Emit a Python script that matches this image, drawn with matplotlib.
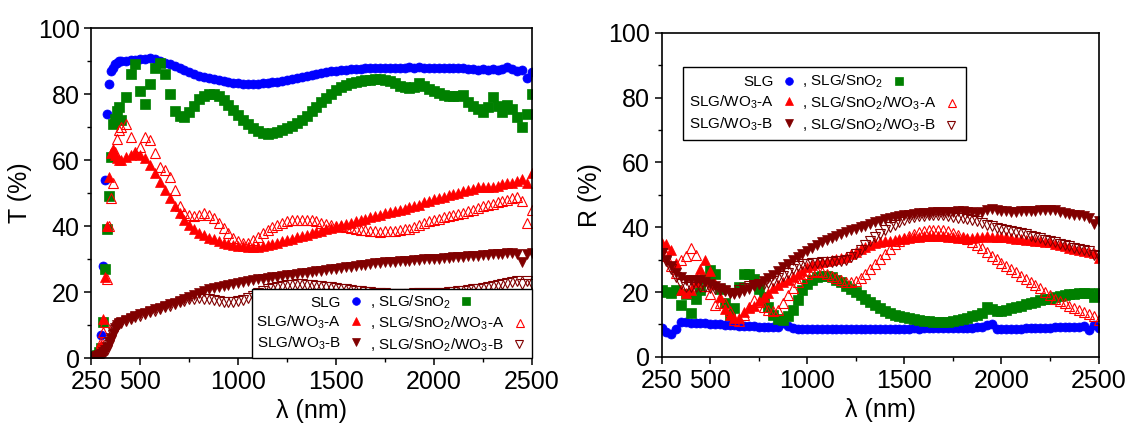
import matplotlib as mpl
mpl.use('Agg')
import matplotlib.pyplot as plt
from matplotlib.ticker import MultipleLocator, FixedLocator

mpl.rcParams['font.family'] = 'Liberation Sans'
mpl.rcParams['mathtext.fontset'] = 'custom'
mpl.rcParams['mathtext.rm'] = 'Liberation Sans'
mpl.rcParams['mathtext.it'] = 'Liberation Sans:italic'

# ---------------- Transmittance data (T, %) ----------------
wl_T = [260, 270, 280, 290, 300, 310, 320, 330, 340, 350, 360, 370, 380, 390] + list(range(400, 2501, 25))

T_slg = [0.3, 0.5, 1.0, 2.0, 7.0, 28.0, 54.0, 74.0, 83.0, 87.0, 88.0, 89.0, 89.5, 90.0,
         90.0, 90.1, 90.3, 90.4, 90.6, 90.7, 90.8, 90.5,
         90.0, 89.5, 89.0, 88.5, 88.0, 87.4, 86.8, 86.2,
         85.6, 85.2, 84.8, 84.5, 84.2, 84.0, 83.7, 83.5,
         83.3, 83.2, 83.1, 83.1, 83.2, 83.3, 83.4, 83.6,
         83.8, 84.0, 84.2, 84.5, 84.8, 85.1, 85.5, 85.8,
         86.1, 86.4, 86.7, 86.9, 87.1, 87.3, 87.4, 87.5,
         87.6, 87.7, 87.8, 87.8, 87.9, 87.9, 87.9, 88.0,
         88.0, 88.0, 88.0, 88.1, 88.0, 88.1, 88.0, 87.9,
         88.0, 88.0, 87.9, 88.0, 87.9, 87.8, 87.9, 87.7,
         87.6, 87.4, 87.6, 87.3, 87.5, 87.2, 87.7, 88.3,
         87.6, 87.0, 87.4, 85.0, 86.6]
T_sno2 = [0.3, 0.5, 1.0, 2.0, 3.0, 11.0, 27.0, 39.0, 49.0, 61.0, 71.0, 72.5, 75.0, 76.0,
          72.0, 79.0, 86.0, 89.0, 81.0, 77.0, 83.0, 88.0,
          89.5, 86.0, 80.0, 75.0, 73.5, 73.0, 74.5, 76.5,
          78.5, 79.5, 80.0, 80.0, 79.3, 78.2, 76.8, 75.2,
          73.7, 72.2, 70.8, 69.6, 68.7, 68.2, 67.9, 68.1,
          68.6, 69.0, 69.6, 70.4, 71.2, 72.3, 73.5, 74.8,
          76.2, 77.6, 78.9, 80.1, 81.2, 82.0, 82.7, 83.3,
          83.7, 84.0, 84.2, 84.4, 84.5, 84.5, 84.3, 83.9,
          83.3, 82.6, 82.0, 81.8, 82.0, 83.5, 82.3, 81.5,
          80.8, 80.2, 79.7, 79.4, 79.3, 79.5, 79.8, 77.5,
          76.5, 75.5, 74.5, 76.0, 79.0, 76.5, 74.5, 76.8,
          75.5, 73.0, 70.0, 74.0, 80.0]
T_wo3_a = [0.5, 0.8, 1.2, 2.0, 4.0, 12.0, 24.5, 40.0, 55.0, 62.0, 63.5, 61.5, 60.5, 60.0,
           60.0, 60.8, 61.5, 62.0, 61.5, 60.5, 58.5, 56.0,
           53.5, 51.0, 48.5, 46.0, 44.0, 42.0, 40.3, 39.0,
           38.0, 37.2, 36.5, 36.0, 35.5, 35.0, 34.6, 34.3,
           34.0, 33.9, 33.8, 33.7, 33.8, 33.9, 34.2, 34.6,
           35.0, 35.4, 35.8, 36.2, 36.6, 37.0, 37.4, 37.8,
           38.2, 38.6, 39.0, 39.4, 39.8, 40.2, 40.6, 41.0,
           41.4, 41.9, 42.3, 42.7, 43.1, 43.5, 43.9, 44.3,
           44.7, 45.0, 45.3, 45.7, 46.1, 46.5, 47.2, 47.7,
           48.2, 48.6, 48.9, 49.3, 49.7, 50.1, 50.5, 50.9,
           51.3, 51.7, 52.0, 51.8, 52.0, 52.3, 52.7, 53.2,
           53.0, 53.8, 54.2, 53.0, 56.0]
T_sno2_wo3_a = [0.5, 0.8, 1.5, 3.0, 5.0, 8.0, 11.0, 24.0, 40.0, 48.5, 53.0, 62.5, 66.5, 69.0,
                70.0, 71.0, 67.0, 62.5, 64.0, 67.0, 66.0, 62.0,
                58.0, 57.0, 55.0, 51.0, 46.0, 44.0, 43.5, 43.2,
                43.5, 44.0, 43.5, 42.5, 41.0, 39.5, 37.8, 36.3,
                35.4, 35.0, 35.0, 35.8, 36.8, 37.8, 38.8, 39.6,
                40.3, 40.9, 41.4, 41.7, 41.9, 42.0, 42.0, 41.8,
                41.4, 41.0, 40.6, 40.3, 40.1, 40.0, 39.8, 39.5,
                39.2, 38.9, 38.7, 38.5, 38.4, 38.3, 38.4, 38.5,
                38.6, 38.8, 39.0, 39.2, 39.6, 40.3, 41.0, 41.6,
                42.0, 42.3, 42.7, 43.0, 43.3, 43.7, 44.1, 44.6,
                45.0, 45.5, 46.0, 46.4, 46.8, 47.2, 47.5, 48.0,
                48.4, 48.8, 47.5, 41.0, 45.0]
T_wo3_b = [0.3, 0.4, 0.6, 0.9, 1.3, 1.8, 2.4, 3.5, 4.8, 6.0, 7.5, 9.0, 10.0, 10.5,
           10.8, 11.5, 12.2, 12.8, 13.3, 13.8, 14.3, 14.8,
           15.3, 15.8, 16.3, 16.8, 17.4, 18.0, 18.6, 19.2,
           19.8, 20.4, 20.9, 21.3, 21.7, 22.0, 22.3, 22.6,
           22.9, 23.2, 23.5, 23.7, 23.9, 24.1, 24.3, 24.5,
           24.7, 24.9, 25.1, 25.3, 25.5, 25.7, 25.9, 26.1,
           26.3, 26.5, 26.7, 26.9, 27.1, 27.3, 27.5, 27.7,
           27.9, 28.1, 28.3, 28.5, 28.7, 28.8, 29.0, 29.1,
           29.2, 29.3, 29.4, 29.5, 29.6, 29.8, 30.0, 29.9,
           30.0, 30.1, 30.3, 30.4, 30.5, 30.6, 30.7, 30.8,
           30.9, 31.0, 31.2, 31.3, 31.4, 31.5, 31.7, 31.8,
           32.0, 31.5, 29.0, 31.5, 32.0]
T_sno2_wo3_b = [0.2, 0.3, 0.4, 0.6, 0.8, 1.2, 1.8, 2.5, 4.0, 5.5, 7.0, 8.5, 9.5, 10.2,
                10.5, 11.2, 11.8, 12.4, 12.9, 13.4, 13.9, 14.4,
                14.9, 15.4, 15.9, 16.4, 16.9, 17.4, 17.8, 18.0,
                18.1, 18.0, 17.8, 17.5, 17.2, 17.0, 17.0, 17.1,
                17.3, 17.7, 18.3, 18.9, 19.6, 20.2, 20.8, 21.3,
                21.7, 22.0, 22.2, 22.3, 22.4, 22.4, 22.3, 22.2,
                22.0, 21.8, 21.6, 21.4, 21.2, 21.0, 20.8, 20.6,
                20.4, 20.2, 20.0, 19.9, 19.8, 19.7, 19.6, 19.5,
                19.5, 19.4, 19.4, 19.5, 19.6, 19.7, 19.8, 19.8,
                19.7, 19.7, 19.8, 19.9, 20.0, 20.2, 20.4, 20.6,
                20.8, 21.0, 21.3, 21.6, 21.9, 22.2, 22.5, 22.8,
                23.0, 23.3, 22.5, 23.5, 22.5]

# ---------------- Reflectance data (R, %) ----------------
wl_R = list(range(250, 2501, 25))

R_slg = [8.8, 7.8, 7.0, 8.5, 10.6, 10.6, 10.5, 10.5,
         10.4, 10.3, 10.2, 10.1, 10.0, 9.9, 9.8, 9.7,
         9.6, 9.5, 9.4, 9.4, 9.3, 9.3, 9.2, 9.2,
         9.3, 10.3, 9.4, 8.8, 8.7, 8.6, 8.6, 8.6,
         8.5, 8.5, 8.6, 8.5, 8.5, 8.6, 8.5, 8.5,
         8.6, 8.5, 8.5, 8.6, 8.5, 8.6, 8.6, 8.6,
         8.7, 8.6, 8.7, 8.7, 8.8, 8.7, 8.8, 8.8,
         8.8, 8.8, 8.9, 8.9, 8.9, 9.0, 9.0, 9.0,
         9.0, 9.1, 9.2, 9.8, 10.0, 8.7, 8.5, 8.6,
         8.6, 8.7, 8.7, 8.8, 8.8, 8.9, 8.9, 9.0,
         9.0, 9.1, 9.1, 9.2, 9.2, 9.3, 9.3, 9.4,
         8.2, 9.8, 9.0]
R_sno2 = [20.6, 20.0, 19.6, 20.6, 16.0, 19.5, 13.4, 18.0,
          20.6, 24.0, 26.8, 25.5, 21.0, 16.5, 13.0, 15.0,
          21.6, 25.5, 25.5, 24.0, 21.0, 18.5, 15.5, 13.0,
          11.8, 11.5, 12.5, 14.5, 17.5, 20.5, 22.5, 23.7,
          24.5, 24.8, 24.8, 24.5, 23.8, 23.0, 22.0, 21.0,
          20.0, 19.0, 17.9, 16.9, 15.9, 15.0, 14.2, 13.5,
          13.0, 12.6, 12.2, 11.9, 11.6, 11.3, 11.1, 11.0,
          10.9, 10.8, 10.8, 10.9, 11.1, 11.4, 11.7, 12.1,
          12.5, 13.0, 13.6, 15.3, 14.8, 14.0, 14.2, 14.6,
          15.0, 15.4, 15.8, 16.2, 16.6, 17.0, 17.4, 17.7,
          18.0, 18.4, 18.8, 19.1, 19.3, 19.5, 19.6, 19.7,
          19.7, 18.5, 19.8]
R_wo3_a = [35.0, 34.8, 33.0, 29.0, 20.6, 19.6, 20.5, 23.0,
           27.0, 30.0, 26.5, 22.5, 18.5, 14.8, 12.8, 12.0,
           12.0, 13.8, 15.0, 15.8, 17.2, 18.5, 19.8, 21.2,
           22.2, 23.0, 23.6, 24.6, 25.6, 26.6, 27.6, 28.4,
           28.9, 29.3, 29.6, 29.8, 30.1, 30.5, 30.9, 31.7,
           32.5, 33.3, 34.0, 34.5, 35.0, 35.3, 35.6, 35.9,
           36.1, 36.3, 36.5, 36.7, 36.9, 37.1, 37.2, 37.3,
           37.3, 37.3, 37.2, 37.1, 37.0, 36.8, 36.6, 36.6,
           36.8, 37.0, 37.1, 37.2, 37.1, 37.0, 36.9, 36.9,
           36.7, 36.5, 36.3, 36.2, 36.0, 35.9, 35.7, 35.5,
           35.3, 34.9, 34.5, 34.1, 33.7, 33.4, 33.0, 32.7,
           32.4, 32.0, 30.5]
R_sno2_wo3_a = [34.0, 31.0, 28.0, 25.8, 30.0, 31.0, 33.5, 31.5,
                26.0, 22.0, 19.5, 16.0, 16.5, 16.5, 14.0, 11.3,
                11.2, 13.0, 15.5, 17.5, 16.8, 15.5, 14.4, 14.0,
                14.5, 16.5, 19.0, 21.2, 23.0, 24.4, 25.5, 26.2,
                26.4, 26.2, 25.6, 24.8, 24.2, 23.6, 23.2, 23.1,
                23.3, 24.3, 25.6, 27.0, 28.6, 30.2, 31.8, 33.4,
                34.7, 35.8, 36.7, 37.4, 38.0, 38.5, 38.8, 39.0,
                39.2, 39.2, 39.0, 38.7, 38.3, 37.7, 37.1, 36.3,
                35.5, 34.6, 33.5, 32.3, 31.1, 30.1, 29.1, 28.1,
                27.1, 26.1, 25.1, 24.1, 23.1, 22.1, 21.1, 20.1,
                19.0, 18.0, 17.2, 16.5, 15.8, 15.1, 14.5, 13.9,
                13.3, 12.5, 11.5]
R_wo3_b = [32.0, 30.0, 28.0, 26.0, 24.5, 23.7, 23.7, 23.7,
           23.7, 23.2, 22.5, 22.0, 21.3, 20.5, 19.8, 19.5,
           19.6, 20.3, 21.0, 21.8, 22.5, 23.3, 24.3, 25.4,
           26.5, 27.7, 28.8, 29.8, 30.8, 31.8, 32.8, 33.7,
           34.6, 35.4, 36.1, 36.8, 37.4, 37.9, 38.5, 39.0,
           39.5, 40.0, 40.5, 41.0, 41.5, 42.0, 42.4, 42.8,
           43.1, 43.4, 43.7, 43.9, 44.1, 44.3, 44.4, 44.5,
           44.6, 44.7, 44.8, 44.8, 44.8, 44.9, 44.9, 44.8,
           44.7, 44.5, 44.6, 45.3, 45.5, 45.2, 45.0, 44.9,
           44.8, 44.8, 44.9, 45.0, 45.1, 45.1, 45.2, 45.3,
           45.4, 45.2, 44.8, 44.4, 44.2, 43.9, 43.7, 43.5,
           42.8, 41.0, 42.0]
R_sno2_wo3_b = [32.0, 29.5, 27.0, 24.7, 22.5, 21.6, 21.5, 21.6,
                21.6, 21.4, 21.3, 21.0, 20.7, 20.4, 19.6, 19.8,
                20.6, 21.3, 21.8, 22.2, 22.4, 22.6, 22.8, 23.5,
                24.2, 25.0, 26.0, 27.1, 28.0, 28.5, 28.8, 29.0,
                29.1, 29.2, 29.3, 29.4, 29.5, 29.7, 29.9, 30.7,
                31.7, 33.0, 34.4, 35.8, 37.0, 38.0, 39.0, 40.0,
                40.8, 41.6, 42.2, 42.7, 43.1, 43.4, 43.6, 43.8,
                43.8, 43.8, 43.7, 43.5, 43.3, 43.0, 42.8, 42.5,
                42.2, 41.8, 41.3, 40.8, 40.3, 39.8, 39.5, 39.2,
                38.8, 38.4, 38.1, 37.8, 37.4, 37.1, 36.7, 36.2,
                35.7, 35.3, 34.9, 34.5, 34.1, 33.7, 33.3, 33.0,
                32.6, 31.5, 31.0]

labels = ['SLG', ', SLG/SnO$_2$', 'SLG/WO$_3$-A', ', SLG/SnO$_2$/WO$_3$-A',
          'SLG/WO$_3$-B', ', SLG/SnO$_2$/WO$_3$-B']
xticks = [250, 500, 1000, 1500, 2000, 2500]

# marker, colour, open?
styles = [('o', '#0000FF', False), ('s', '#008000', False),
          ('^', '#FF0000', False), ('^', '#FF0000', True),
          ('v', '#800000', False), ('v', '#800000', True)]


def panel(ax, wl, series, ylabel):
    lines = []
    for y, lab, (m, c, hollow) in zip(series, labels, styles):
        if hollow:
            ln, = ax.plot(wl, y, m, ms=7, mfc='none', mec=c, mew=0.8, label=lab)
        else:
            ln, = ax.plot(wl, y, m, ms=6.5, color=c, mec=c, mew=0.5, label=lab)
        lines.append(ln)
    ax.set_xlim(250, 2500)
    ax.set_ylim(0, 100)
    ax.xaxis.set_major_locator(FixedLocator(xticks))
    ax.xaxis.set_minor_locator(FixedLocator([750, 1250, 1750, 2250]))
    ax.yaxis.set_major_locator(MultipleLocator(20))
    ax.yaxis.set_minor_locator(MultipleLocator(10))
    ax.tick_params(axis='both', which='major', direction='out', length=5, width=1.1, labelsize=18,
                   top=False, right=False)
    ax.tick_params(axis='both', which='minor', direction='out', length=3, width=1.0,
                   top=False, right=False)
    for s in ax.spines.values():
        s.set_linewidth(1.2)
    ax.set_xlabel('λ (nm)', fontsize=18)
    ax.set_ylabel(ylabel, fontsize=18)
    # column-wise order for a 2-column legend
    order = [0, 2, 4, 1, 3, 5]
    return [lines[i] for i in order], [labels[i] for i in order]


fig = plt.figure(figsize=(11.29, 4.32), dpi=100)
ax1 = fig.add_axes([0.081, 0.171, 0.390, 0.764])
ax2 = fig.add_axes([0.586, 0.174, 0.387, 0.750])

h, l = panel(ax1, wl_T, [T_slg, T_sno2, T_wo3_a, T_sno2_wo3_a, T_wo3_b, T_sno2_wo3_b], 'T (%)')
leg1 = ax1.legend(h, l, ncol=2, loc='lower right', bbox_to_anchor=(1, 0), borderaxespad=0,
                  markerfirst=False, fontsize=11, handlelength=1.0, handletextpad=0.5,
                  columnspacing=0.4, labelspacing=0.25, fancybox=False, framealpha=1,
                  edgecolor='black', borderpad=0.3, markerscale=0.85)
leg1.get_frame().set_linewidth(1.0)
leg1._legend_handle_box.get_children()[1].align = 'left'

h, l = panel(ax2, wl_R, [R_slg, R_sno2, R_wo3_a, R_sno2_wo3_a, R_wo3_b, R_sno2_wo3_b], 'R (%)')
leg2 = ax2.legend(h, l, ncol=2, loc='upper left', bbox_to_anchor=(0.048, 0.895), borderaxespad=0,
                  markerfirst=False, fontsize=11, handlelength=1.0, handletextpad=0.5,
                  columnspacing=0.4, labelspacing=0.3, fancybox=False, framealpha=1,
                  edgecolor='black', borderpad=0.4, markerscale=0.85)
leg2.get_frame().set_linewidth(1.0)
leg2._legend_handle_box.get_children()[1].align = 'left'

fig.savefig('out.png', dpi=100)
